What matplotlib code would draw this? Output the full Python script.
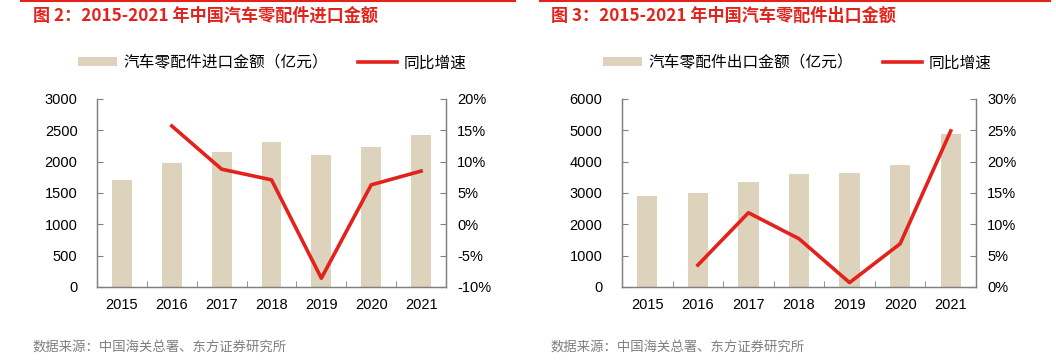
import matplotlib
matplotlib.use("Agg")
import matplotlib.pyplot as plt
import numpy as np
from matplotlib.ticker import FuncFormatter

years = ["2015", "2016", "2017", "2018", "2019", "2020", "2021"]
import_values = [1703, 1975, 2151, 2306, 2103, 2237, 2429]
import_growth = [np.nan, 15.7, 8.8, 7.1, -8.6, 6.3, 8.5]
export_values = [2893, 2989, 3352, 3609, 3641, 3897, 4868]
export_growth = [np.nan, 3.5, 11.85, 7.7, 0.7, 6.9, 24.9]

titles = ["图 2：2015-2021 年中国汽车零配件进口金额", "图 3：2015-2021 年中国汽车零配件出口金额"]
bar_labels = ["汽车零配件进口金额（亿元）", "汽车零配件出口金额（亿元）"]
line_label = "同比增速"
source = "数据来源：中国海关总署、东方证券研究所"

BAR_C = "#DDD3BC"
LINE_C = "#E3231B"
RED_T = "#E3231B"
SPINE_C = "#808080"
CJK = ["Noto Sans CJK SC", "DejaVu Sans"]
NUM = ["Liberation Sans", "DejaVu Sans"]

W, H = 1056, 361
fig = plt.figure(figsize=(W / 100, H / 100), dpi=100)

def fx(px):
    return px / W

def fy(py):
    return 1 - py / H

panels = [
    dict(vals=import_values, growth=import_growth, ax_l=97, ax_r=446, ylim=(0, 3000), yt=np.arange(0, 3001, 500),
         y2lim=(-10, 20), y2t=np.arange(-10, 21, 5), title=titles[0], blabel=bar_labels[0],
         tx=33, line=(21, 515), leg_x=272),
    dict(vals=export_values, growth=export_growth, ax_l=622, ax_r=976, ylim=(0, 6000), yt=np.arange(0, 6001, 1000),
         y2lim=(0, 30), y2t=np.arange(0, 31, 5), title=titles[1], blabel=bar_labels[1],
         tx=551, line=(540, 1050), leg_x=797),
]

top_px, bot_px = 99, 287
for p in panels:
    ax = fig.add_axes([fx(p["ax_l"]), fy(bot_px), fx(p["ax_r"] - p["ax_l"]), (bot_px - top_px) / H])
    x = np.arange(len(years))
    bars = ax.bar(x, p["vals"], width=0.4, color=BAR_C, label=p["blabel"], zorder=2)
    ax.set_xlim(-0.5, len(years) - 0.5)
    ax.set_ylim(*p["ylim"])
    ax.set_yticks(p["yt"])
    ax.set_xticks(x)
    ax.set_xticklabels(years)
    ax.set_xticks(np.arange(-0.5, len(years), 1), minor=True)
    ax.tick_params(axis="x", which="major", length=0, pad=8)
    ax.tick_params(axis="x", which="minor", length=4, direction="in", color=SPINE_C)
    ax.tick_params(axis="y", length=4, direction="in", color=SPINE_C, pad=14)
    for lab in ax.get_xticklabels() + ax.get_yticklabels():
        lab.set_family(NUM)
        lab.set_fontsize(10.5)
    ax.spines["top"].set_visible(False)
    for s in ["left", "bottom", "right"]:
        ax.spines[s].set_color(SPINE_C)
        ax.spines[s].set_linewidth(1.0)

    ax2 = ax.twinx()
    ln, = ax2.plot(x, p["growth"], color=LINE_C, lw=2.6, label=line_label, zorder=3)
    ax2.set_ylim(*p["y2lim"])
    ax2.set_yticks(p["y2t"])
    ax2.yaxis.set_major_formatter(FuncFormatter(lambda v, _: f"{int(round(v))}%"))
    ax2.tick_params(axis="y", length=4, direction="in", color=SPINE_C, pad=8)
    for lab in ax2.get_yticklabels():
        lab.set_family(NUM)
        lab.set_fontsize(10.5)
    ax2.spines["top"].set_visible(False)
    for s in ["left", "bottom", "right"]:
        ax2.spines[s].set_color(SPINE_C)

    leg = fig.legend([bars, ln], [p["blabel"], line_label], loc="center",
                     bbox_to_anchor=(fx(p["leg_x"]), fy(63)), ncol=2, frameon=False,
                     handlelength=2.5, handleheight=0.5, columnspacing=1.9, handletextpad=0.4,
                     prop={"family": CJK, "size": 11.3})

    fig.text(fx(p["tx"]), fy(16), p["title"], color=RED_T, fontsize=12.3, fontweight="bold",
             family=CJK, va="center", ha="left")
    fig.add_artist(plt.Line2D([fx(p["line"][0]), fx(p["line"][1])], [fy(1), fy(1)], color=RED_T, lw=1.5))
    fig.text(fx(p["tx"]), fy(348), source, color="#7F7F7F", fontsize=9.6, family=CJK, va="center", ha="left")

fig.savefig("out.png", dpi=100)
